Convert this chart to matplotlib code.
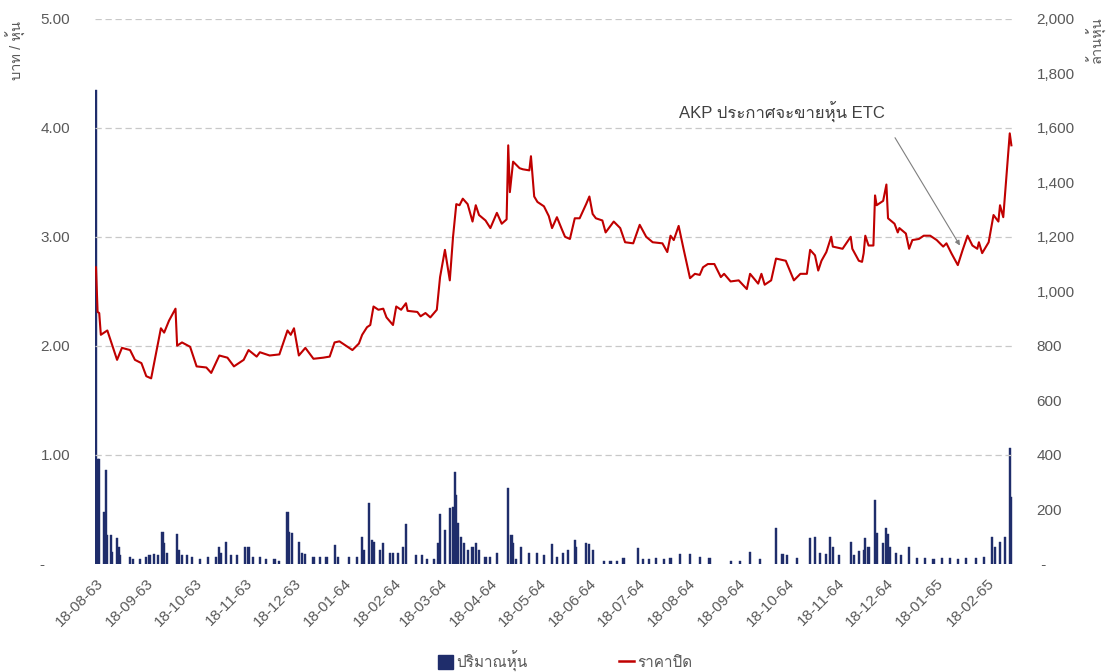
import numpy as np
import pandas as pd
import matplotlib
matplotlib.use("Agg")
import matplotlib.pyplot as plt
import matplotlib.dates as mdates
from matplotlib.ticker import FixedLocator, FuncFormatter
from matplotlib.patches import Patch
from matplotlib.lines import Line2D
from matplotlib import font_manager
from matplotlib.ft2font import FT2Font

# ---------------- data ----------------
start_date = "2020-08-18"

price_days = [
    0, 1, 2, 3, 7, 13, 16, 21, 24, 28, 31, 34, 40, 42, 45, 49, 50, 53, 58, 62,
    68, 71, 76, 81, 85, 91, 94, 99, 101, 107, 113, 118, 120, 122, 125, 129, 134, 140, 144, 147,
    150, 154, 158, 162, 164, 167, 169, 171, 174, 177, 179, 183, 185, 188, 191, 192, 198, 200, 203, 206,
    210, 212, 215, 218, 220, 222, 224, 226, 229, 232, 234, 236, 240, 243, 247, 250, 253, 254, 255, 257,
    261, 263, 267, 268, 270, 272, 276, 279, 281, 284, 287, 289, 292, 295, 298, 302, 304, 306, 308, 312,
    314, 319, 323, 326, 331, 335, 339, 343, 349, 352, 354, 356, 359, 362, 366, 369, 372, 374, 377, 381,
    385, 387, 391, 396, 401, 403, 408, 410, 412, 416, 419, 425, 430, 434, 438, 440, 443, 445, 447, 450,
    453, 454, 460, 465, 466, 470, 472, 473, 474, 476, 479, 480, 481, 485, 487, 488, 492, 494, 495, 499,
    501, 503, 507, 510, 514, 518, 522, 524, 527, 531, 534, 537, 540, 543, 544, 546, 550, 553, 556, 557,
    559, 563, 564]
price_values = [
    2.72, 2.31, 2.30, 2.10, 2.14, 1.87, 1.98, 1.96, 1.87, 1.84, 1.72, 1.70, 2.16, 2.12, 2.23, 2.34, 2.00, 2.03, 1.99, 1.81,
    1.80, 1.75, 1.91, 1.89, 1.81, 1.87, 1.96, 1.90, 1.94, 1.91, 1.92, 2.14, 2.10, 2.16, 1.91, 1.98, 1.88, 1.89, 1.90, 2.03,
    2.04, 2.00, 1.96, 2.02, 2.10, 2.17, 2.19, 2.36, 2.33, 2.34, 2.26, 2.19, 2.36, 2.33, 2.39, 2.32, 2.31, 2.27, 2.30, 2.26,
    2.33, 2.63, 2.88, 2.60, 3.00, 3.30, 3.29, 3.35, 3.30, 3.14, 3.29, 3.20, 3.15, 3.08, 3.22, 3.12, 3.16, 3.84, 3.41, 3.69,
    3.63, 3.62, 3.61, 3.74, 3.37, 3.32, 3.28, 3.19, 3.08, 3.18, 3.07, 3.00, 2.98, 3.17, 3.17, 3.30, 3.37, 3.21, 3.17, 3.15,
    3.04, 3.14, 3.08, 2.95, 2.94, 3.11, 3.00, 2.95, 2.94, 2.86, 3.01, 2.97, 3.10, 2.89, 2.62, 2.66, 2.65, 2.72, 2.75, 2.75,
    2.63, 2.66, 2.59, 2.60, 2.52, 2.66, 2.57, 2.66, 2.56, 2.60, 2.80, 2.78, 2.60, 2.66, 2.66, 2.88, 2.83, 2.69, 2.78, 2.86,
    3.00, 2.91, 2.89, 3.00, 2.89, 2.78, 2.77, 2.85, 3.01, 2.92, 2.92, 3.38, 3.29, 3.33, 3.48, 3.17, 3.12, 3.04, 3.08, 3.03,
    2.89, 2.97, 2.98, 3.01, 3.01, 2.97, 2.91, 2.94, 2.85, 2.74, 2.88, 3.01, 2.92, 2.89, 2.95, 2.85, 2.95, 3.20, 3.14, 3.29,
    3.18, 3.95, 3.84]

volume_days = [
    0, 1, 2, 5, 6, 7, 9, 10, 13, 14, 15, 21, 23, 27, 31, 33, 36, 38, 41, 42,
    44, 50, 51, 53, 56, 59, 64, 69, 74, 76, 77, 80, 83, 87, 92, 94, 97, 101, 105, 110,
    113, 118, 119, 121, 125, 127, 129, 134, 138, 142, 147, 149, 156, 161, 164, 165, 168, 170, 171, 175,
    177, 181, 183, 186, 189, 191, 197, 201, 204, 208, 211, 212, 215, 218, 220, 221, 222, 223, 225, 227,
    229, 232, 234, 236, 240, 243, 247, 254, 256, 257, 259, 262, 267, 272, 276, 281, 284, 288, 291, 295,
    296, 302, 304, 306, 313, 317, 321, 325, 334, 337, 341, 345, 350, 354, 360, 366, 372, 378, 391, 397,
    403, 409, 419, 423, 426, 432, 440, 443, 446, 450, 452, 454, 458, 465, 467, 470, 473, 474, 476, 480,
    481, 485, 487, 488, 489, 493, 496, 501, 506, 511, 516, 521, 526, 531, 536, 542, 547, 552, 554, 557,
    560, 563, 564]
volume_values = [
    1740, 383, 383, 190, 343, 105, 105, 41, 93, 60, 33, 25, 15, 15, 25, 30, 35, 30, 117, 75,
    40, 110, 50, 30, 30, 25, 15, 25, 25, 62, 40, 80, 30, 30, 62, 62, 25, 25, 15, 15,
    10, 190, 117, 113, 80, 40, 35, 25, 25, 25, 68, 25, 25, 25, 98, 50, 221, 86, 80, 50,
    74, 40, 40, 40, 62, 145, 30, 30, 15, 15, 74, 182, 123, 203, 209, 337, 250, 150, 98, 74,
    50, 62, 77, 50, 25, 25, 37, 276, 105, 74, 15, 62, 40, 40, 30, 71, 25, 40, 50, 86,
    62, 74, 70, 50, 10, 10, 10, 20, 58, 15, 15, 20, 15, 20, 35, 35, 25, 20, 10, 10,
    43, 15, 129, 35, 30, 20, 92, 97, 40, 35, 98, 62, 30, 80, 30, 45, 50, 92, 62, 233,
    113, 74, 129, 110, 60, 40, 30, 62, 20, 20, 15, 20, 20, 15, 20, 20, 25, 96, 62, 80,
    96, 423, 245]

tick_labels = ["18-08-63", "18-09-63", "18-10-63", "18-11-63", "18-12-63", "18-01-64",
               "18-02-64", "18-03-64", "18-04-64", "18-05-64", "18-06-64", "18-07-64",
               "18-08-64", "18-09-64", "18-10-64", "18-11-64", "18-12-64", "18-01-65",
               "18-02-65"]

price_ticks = [0, 1, 2, 3, 4, 5]
volume_ticks = [0, 200, 400, 600, 800, 1000, 1200, 1400, 1600, 1800, 2000]

legend_volume = "ปริมาณหุ้น"
legend_price = "ราคาปิด"
left_title = "บาท / หุ้น"
right_title = "ล้านหุ้น"
note_text = "AKP ประกาศจะขายหุ้น ETC"

# ---------------- fonts ----------------
thai_family = None
for f in font_manager.fontManager.ttflist:
    try:
        cm = FT2Font(f.fname).get_charmap()
        if 0x0E2B in cm and 0x0E38 in cm and 0x0E49 in cm:
            thai_family = f.name
            break
    except Exception:
        pass
families = ["Liberation Sans"]
if thai_family:
    families.append(thai_family)
families.append("DejaVu Sans")
plt.rcParams["font.family"] = families

# ---------------- figure ----------------
GRAY = "#595959"
RED = "#c00000"
NAVY = "#1f2d6b"

fig = plt.figure(figsize=(11.12, 6.72), dpi=100)
ax = fig.add_axes([95 / 1112, 1 - 563.5 / 672, (1013 - 95) / 1112, (563.5 - 19) / 672])
ax2 = ax.twinx()

start = pd.Timestamp(start_date)
price_dates = start + pd.to_timedelta(price_days, unit="D")
vol_dates = start + pd.to_timedelta(volume_days, unit="D")
tick_dates = [start + pd.DateOffset(months=i) for i in range(len(tick_labels))]

ax2.bar(vol_dates, volume_values, width=1.3, color=NAVY, edgecolor=NAVY,
        linewidth=0.3, zorder=2)
ax.plot(price_dates, price_values, color=RED, linewidth=1.5, zorder=3,
        solid_joinstyle="round")

ax.set_zorder(ax2.get_zorder() + 1)
ax.patch.set_visible(False)

x0 = start - pd.Timedelta(days=0.6)
x1 = start + pd.Timedelta(days=565)
ax.set_xlim(x0, x1)
ax.set_ylim(0, 5)
ax2.set_ylim(0, 2000)

ax.yaxis.set_major_locator(FixedLocator(price_ticks))
ax.yaxis.set_major_formatter(FuncFormatter(lambda v, p: "-      " if v == 0 else f"{v:.2f}"))
ax2.yaxis.set_major_locator(FixedLocator(volume_ticks))
ax2.yaxis.set_major_formatter(FuncFormatter(lambda v, p: " -" if v == 0 else f"{v:,.0f}"))

ax.set_xticks(mdates.date2num(tick_dates))
ax.set_xticklabels(tick_labels, rotation=45, ha="right", va="top", rotation_mode="anchor")

for a in (ax, ax2):
    for s in a.spines.values():
        s.set_visible(False)
    a.tick_params(length=0, labelsize=11, labelcolor=GRAY)
ax.tick_params(axis="y", pad=18)
ax2.tick_params(axis="y", pad=17)
ax.tick_params(axis="x", pad=9)

for t in price_ticks[1:]:
    ax.axhline(t, color="#c8c8c8", linewidth=0.9, linestyle=(0, (5, 3)), zorder=1)

# axis titles
fig.text(16 / 1112, 1 - 50 / 672, left_title, rotation=90, ha="center", va="center",
         fontsize=10.5, color=GRAY)
fig.text(1096 / 1112, 1 - 40 / 672, right_title, rotation=90, ha="center", va="center",
         fontsize=10.5, color=GRAY)

# annotation
note_x = start + pd.Timedelta(days=422.7)
ax.text(note_x, 4.14, note_text, ha="center", va="center", fontsize=12, color="#404040")
ax.annotate("", xy=(start + pd.Timedelta(days=532.3), 2.92),
            xytext=(start + pd.Timedelta(days=492.3), 3.91),
            arrowprops=dict(arrowstyle="-|>", color="#7f7f7f", lw=0.8,
                            mutation_scale=7, shrinkA=0, shrinkB=0))

# legend
handles = [Patch(facecolor=NAVY, edgecolor=NAVY),
           Line2D([0], [0], color=RED, linewidth=1.8)]
fig.legend(handles, [legend_volume, legend_price], loc="center",
           bbox_to_anchor=(0.508, 1 - 661 / 672), ncol=2, frameon=False,
           fontsize=11, handlelength=1.0, handleheight=1.0, handletextpad=0.2,
           columnspacing=6.0, labelcolor=GRAY)

fig.savefig("out.png", dpi=100)
